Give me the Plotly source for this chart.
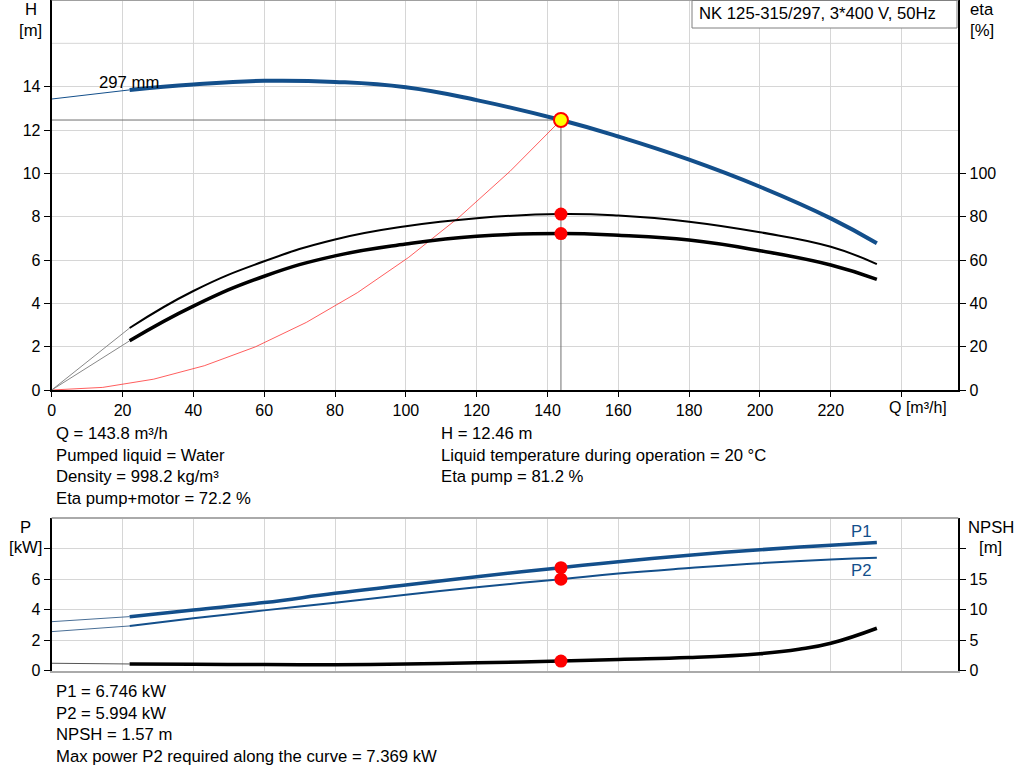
import plotly.graph_objects as go

# ---------------- data ----------------
# Head curve (297 mm impeller)
q_h_ext = [0, 22]
h_ext = [13.43, 13.85]
q_h = [22, 40, 60, 80, 100, 120, 143.8, 160, 180, 200, 220, 233]
h = [13.85, 14.1, 14.27, 14.22, 13.97, 13.38, 12.46, 11.7, 10.63, 9.38, 7.92, 6.77]

# Efficiency curves
q_eta = [22, 40, 60, 80, 100, 120, 143.8, 160, 180, 200, 220, 233]
eta_pump = [28.6, 45.7, 59.4, 69.5, 75.6, 79.3, 81.2, 80.5, 77.7, 72.8, 66.1, 58.1]
eta_total = [22.7, 38.7, 52.5, 61.9, 67.4, 71.0, 72.2, 71.4, 69.2, 64.3, 57.7, 51.1]
q_eta_ext = [0, 22]
eta_pump_ext = [0, 28.6]
eta_total_ext = [0, 22.7]

# System curve
q_sys = [0, 14.4, 28.8, 43.1, 57.5, 71.9, 86.3, 100.7, 115.0, 129.4, 143.8]
h_sys = [0, 0.12, 0.50, 1.12, 1.99, 3.12, 4.49, 6.11, 7.97, 10.09, 12.46]

# Power and NPSH curves
q_p_ext = [0, 22]
p1_ext = [3.21, 3.54]
p2_ext = [2.56, 2.93]
npsh_ext = [1.22, 1.10]
q_p = [22, 40, 60, 80, 100, 120, 143.8, 160, 180, 200, 220, 233]
p1 = [3.54, 3.98, 4.46, 5.07, 5.61, 6.16, 6.746, 7.14, 7.56, 7.92, 8.22, 8.39]
p2 = [2.93, 3.43, 3.95, 4.45, 4.97, 5.47, 5.994, 6.36, 6.72, 7.04, 7.28, 7.39]
q_npsh = [22, 40, 60, 80, 100, 120, 143.8, 160, 180, 200, 211, 220, 233]
npsh = [1.10, 1.04, 1.0, 0.98, 1.1, 1.3, 1.57, 1.85, 2.15, 2.78, 3.5, 4.49, 6.95]

# Duty point
q_op = 143.8
h_op = 12.46
eta_pump_op = 81.2
eta_total_op = 72.2
p1_op = 6.746
p2_op = 5.994
npsh_op = 1.57

x_ticks = [0, 20, 40, 60, 80, 100, 120, 140, 160, 180, 200, 220, 240]
x_tick_text = ["0", "20", "40", "60", "80", "100", "120", "140", "160", "180", "200", "220", ""]
h_ticks = [0, 2, 4, 6, 8, 10, 12, 14]
eta_ticks = [0, 20, 40, 60, 80, 100]
p_ticks = [0, 2, 4, 6, 8]
p_tick_text = ["0", "2", "4", "6", ""]
npsh_ticks = [0, 5, 10, 15, 20]
npsh_tick_text = ["0", "5", "10", "15", ""]

title_text = "NK 125-315/297, 3*400 V, 50Hz"
info_left = ["Q = 143.8 m³/h", "Pumped liquid = Water", "Density = 998.2 kg/m³", "Eta pump+motor = 72.2 %"]
info_right = ["H = 12.46 m", "Liquid temperature during operation = 20 °C", "Eta pump = 81.2 %"]
info_bottom = ["P1 = 6.746 kW", "P2 = 5.994 kW", "NPSH = 1.57 m",
               "Max power P2 required along the curve = 7.369 kW"]

# ---------------- styling ----------------
W, H = 1024, 781
BLUE = "#134f8b"
GRID = "#d6d6d6"
FONT = "Liberation Sans, Arial, sans-serif"
FS = 16.7
TFS = 16
SM = 1.3

def px_x(p):
    return p / W

def px_y(p):
    return 1 - p / H

x_dom = [px_x(51.7), px_x(958.3)]
top_dom = [px_y(390), 1.0]
bot_dom = [px_y(670.7), px_y(518)]

fig = go.Figure()

# --- top panel ---
fig.add_trace(go.Scatter(x=q_sys, y=h_sys, mode="lines",
                         line=dict(color="rgba(255,40,40,0.75)", width=1),
                         xaxis="x", yaxis="y", hoverinfo="skip"))
fig.add_trace(go.Scatter(x=[0, q_op], y=[h_op, h_op], mode="lines",
                         line=dict(color="#707070", width=1), xaxis="x", yaxis="y"))
fig.add_trace(go.Scatter(x=[q_op, q_op], y=[h_op, 0], mode="lines",
                         line=dict(color="#707070", width=1), xaxis="x", yaxis="y"))
fig.add_trace(go.Scatter(x=q_eta_ext, y=eta_pump_ext, mode="lines",
                         line=dict(color="#888888", width=1), xaxis="x", yaxis="y2"))
fig.add_trace(go.Scatter(x=q_eta_ext, y=eta_total_ext, mode="lines",
                         line=dict(color="#888888", width=1), xaxis="x", yaxis="y2"))
fig.add_trace(go.Scatter(x=q_eta, y=eta_pump, mode="lines",
                         line=dict(color="black", width=2, shape="spline", smoothing=SM),
                         xaxis="x", yaxis="y2"))
fig.add_trace(go.Scatter(x=q_eta, y=eta_total, mode="lines",
                         line=dict(color="black", width=3.5, shape="spline", smoothing=SM),
                         xaxis="x", yaxis="y2"))
fig.add_trace(go.Scatter(x=q_h_ext, y=h_ext, mode="lines",
                         line=dict(color=BLUE, width=1), xaxis="x", yaxis="y"))
fig.add_trace(go.Scatter(x=q_h, y=h, mode="lines",
                         line=dict(color=BLUE, width=4, shape="spline", smoothing=SM),
                         xaxis="x", yaxis="y"))
fig.add_trace(go.Scatter(x=[q_op, q_op], y=[eta_pump_op, eta_total_op], mode="markers",
                         marker=dict(color="#ff0000", size=13), xaxis="x", yaxis="y2"))
fig.add_trace(go.Scatter(x=[q_op], y=[h_op], mode="markers",
                         marker=dict(color="#ffff00", size=14, line=dict(color="#ff0000", width=2)),
                         xaxis="x", yaxis="y"))

# --- bottom panel ---
fig.add_trace(go.Scatter(x=q_p_ext, y=p1_ext, mode="lines",
                         line=dict(color="#4a6f96", width=1), xaxis="x2", yaxis="y3"))
fig.add_trace(go.Scatter(x=q_p_ext, y=p2_ext, mode="lines",
                         line=dict(color="#4a6f96", width=1), xaxis="x2", yaxis="y3"))
fig.add_trace(go.Scatter(x=q_p_ext, y=npsh_ext, mode="lines",
                         line=dict(color="#555555", width=1), xaxis="x2", yaxis="y4"))
fig.add_trace(go.Scatter(x=q_p, y=p1, mode="lines",
                         line=dict(color=BLUE, width=3.5, shape="spline", smoothing=SM),
                         xaxis="x2", yaxis="y3"))
fig.add_trace(go.Scatter(x=q_p, y=p2, mode="lines",
                         line=dict(color=BLUE, width=2, shape="spline", smoothing=SM),
                         xaxis="x2", yaxis="y3"))
fig.add_trace(go.Scatter(x=q_npsh, y=npsh, mode="lines",
                         line=dict(color="black", width=3.5, shape="spline", smoothing=SM),
                         xaxis="x2", yaxis="y4"))
fig.add_trace(go.Scatter(x=[q_op, q_op], y=[p1_op, p2_op], mode="markers",
                         marker=dict(color="#ff0000", size=13), xaxis="x2", yaxis="y3"))
fig.add_trace(go.Scatter(x=[q_op], y=[npsh_op], mode="markers",
                         marker=dict(color="#ff0000", size=13), xaxis="x2", yaxis="y4"))

tickfont = dict(family=FONT, size=TFS, color="black")

fig.update_layout(
    width=W, height=H, margin=dict(l=0, r=0, t=0, b=0, pad=0),
    paper_bgcolor="white", plot_bgcolor="white", showlegend=False,
    font=dict(family=FONT, size=FS, color="black"),
    xaxis=dict(domain=x_dom, range=[0, 256], tickvals=x_ticks, ticktext=x_tick_text,
               showgrid=True, gridcolor=GRID, gridwidth=1, zeroline=False,
               showline=True, linecolor="black", linewidth=2,
               ticks="outside", ticklen=5, tickcolor="black", tickwidth=1,
               tickfont=tickfont, anchor="y", automargin=False),
    yaxis=dict(domain=top_dom, range=[0, 18], tickvals=h_ticks,
               showgrid=True, gridcolor=GRID, gridwidth=1, zeroline=False,
               showline=True, linecolor="black", linewidth=2,
               ticks="outside", ticklen=6, tickcolor="black", tickwidth=1,
               tickfont=tickfont, anchor="x", automargin=False),
    yaxis2=dict(overlaying="y", side="right", range=[0, 180], tickvals=eta_ticks,
                showgrid=False, zeroline=False,
                showline=True, linecolor="black", linewidth=2,
                ticks="outside", ticklen=6, tickcolor="black", tickwidth=1,
                tickfont=tickfont, anchor="x", automargin=False),
    xaxis2=dict(domain=x_dom, range=[0, 256], tickvals=x_ticks, showticklabels=False,
                showgrid=True, gridcolor=GRID, gridwidth=1, zeroline=False,
                showline=True, linecolor="#aaaaaa", linewidth=2, ticks="",
                anchor="y3", automargin=False),
    yaxis3=dict(domain=bot_dom, range=[0, 10], tickvals=p_ticks, ticktext=p_tick_text,
                showgrid=True, gridcolor=GRID, gridwidth=1, zeroline=False,
                showline=True, linecolor="black", linewidth=2,
                ticks="outside", ticklen=6, tickcolor="black", tickwidth=1,
                tickfont=tickfont, anchor="x2", automargin=False),
    yaxis4=dict(overlaying="y3", side="right", range=[0, 25], tickvals=npsh_ticks,
                ticktext=npsh_tick_text, showgrid=False, zeroline=False,
                showline=True, linecolor="black", linewidth=2,
                ticks="outside", ticklen=6, tickcolor="black", tickwidth=1,
                tickfont=tickfont, anchor="x2", automargin=False),
)

shapes = [
    # extra grid line at H = 16 (no label)
    dict(type="line", xref="x", yref="y", x0=0, x1=256, y0=16, y1=16,
         line=dict(color=GRID, width=1), layer="below"),
    # top border of upper panel
    dict(type="line", xref="paper", yref="paper", x0=x_dom[0], x1=x_dom[1], y0=1, y1=1,
         line=dict(color="#a0a0a0", width=2)),
    # top border of lower panel
    dict(type="line", xref="paper", yref="paper", x0=x_dom[0], x1=x_dom[1],
         y0=bot_dom[1], y1=bot_dom[1], line=dict(color="#aaaaaa", width=2)),
    # title box
    dict(type="rect", xref="paper", yref="paper", x0=px_x(692), x1=px_x(957),
         y0=px_y(28), y1=px_y(0.5), fillcolor="white",
         line=dict(color="#808080", width=1), layer="above"),
]
fig.update_layout(shapes=shapes)

ann = []
def text(x, y, s, anchor="left", color="black", size=FS):
    ann.append(dict(x=px_x(x), y=px_y(y), xref="paper", yref="paper", text=s,
                    showarrow=False, xanchor=anchor, yanchor="middle",
                    font=dict(family=FONT, size=size, color=color)))

text(697, 14, title_text)
text(30.5, 10, "H", "center")
text(30.5, 30.5, "[m]", "center")
text(981.5, 10, "eta", "center")
text(981.5, 30.5, "[%]", "center")
text(918, 407.5, "Q [m³/h]", "center", size=TFS)
text(128.5, 82, "297 mm", "center")
text(25, 527, "P", "center")
text(25, 547.5, "[kW]", "center")
text(990.5, 527, "NPSH", "center")
text(990.5, 547.5, "[m]", "center")
text(861, 531.5, "P1", "center", BLUE)
text(861, 570, "P2", "center", BLUE)

rows_top = [433.5, 455.5, 476.5, 498]
for s, y in zip(info_left, rows_top):
    text(54, y, s)
for s, y in zip(info_right, rows_top):
    text(439, y, s)
rows_bot = [691.5, 713, 734.5, 756.5]
for s, y in zip(info_bottom, rows_bot):
    text(54, y, s)

fig.update_layout(annotations=ann)

fig.write_html("out.html", config={"displayModeBar": False},
               post_script="document.body.style.margin='0';")
